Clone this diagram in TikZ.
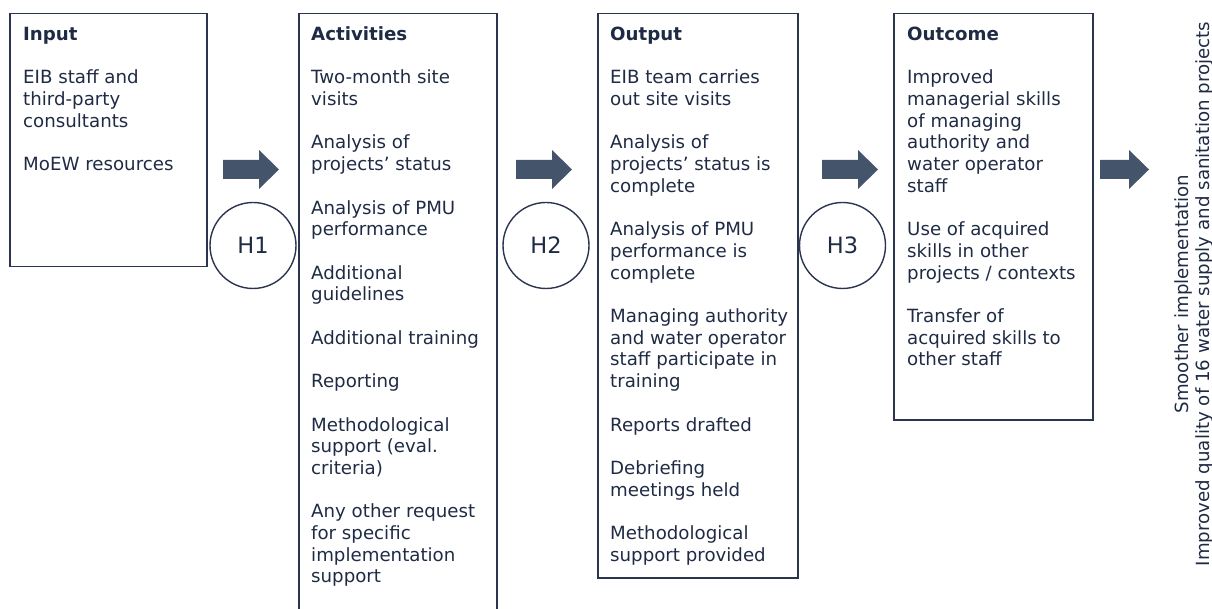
\documentclass[tikz,border=0pt]{standalone}
\usepackage{fontspec}
\setmainfont{DejaVu Sans}
\definecolor{ink}{HTML}{1F2B45}
\definecolor{frame}{HTML}{2B3550}
\definecolor{arrowfill}{HTML}{44546A}
\newcommand{\para}{\\[21.7pt]}
\newcommand{\txtfont}{\fontsize{18.2}{21.7}\selectfont}
\begin{document}
\begin{tikzpicture}[x=1pt,y=-1pt,
  stage/.style={draw=frame, line width=1.5pt, anchor=north west, inner sep=0},
  hyp/.style={circle, draw=frame, line width=1.4pt, minimum size=86pt, inner sep=0,
    text=ink, font=\fontsize{22.5}{26}\selectfont},
  body/.style={anchor=base west, inner sep=0, text=ink, font=\txtfont},
  blockarrow/.pic={\fill[arrowfill] (0,-9.5) -- (#1-20,-9.5) -- (#1-20,-19.5) -- (#1,0)
    -- (#1-20,19.5) -- (#1-20,9.5) -- (0,9.5) -- cycle;}
  ]
\useasboundingbox (0,0) rectangle (1212,609);

% stage frames
\node[stage, minimum width=197pt, minimum height=253pt] (input) at (9,13) {};
\node[stage, minimum width=198pt, minimum height=610pt] (activities) at (298,13) {};
\node[stage, minimum width=200pt, minimum height=564pt] (output) at (597,13) {};
\node[stage, minimum width=199pt, minimum height=406pt] (outcome) at (893,13) {};

% stage contents
\node[body] (inputtext) at (23,40.5) {\begin{tabular}[t]{@{}l@{}}
\textbf{Input}\para
EIB staff and\\third-party\\consultants\para
MoEW resources
\end{tabular}};

\node[body] (activitiestext) at (311,40.5) {\begin{tabular}[t]{@{}l@{}}
\textbf{Activities}\para
Two-month site\\visits\para
Analysis of\\projects’ status\para
Analysis of PMU\\performance\para
Additional\\guidelines\para
Additional training\para
Reporting\para
Methodological\\support (eval.\\criteria)\para
Any other request\\for specific\\implementation\\support
\end{tabular}};

\node[body] (outputtext) at (610,40.5) {\begin{tabular}[t]{@{}l@{}}
\textbf{Output}\para
EIB team carries\\out site visits\para
Analysis of\\projects’ status is\\complete\para
Analysis of PMU\\performance is\\complete\para
Managing authority\\and water operator\\staff participate in\\training\para
Reports drafted\para
Debriefing\\meetings held\para
Methodological\\support provided
\end{tabular}};

\node[body] (outcometext) at (907,40.5) {\begin{tabular}[t]{@{}l@{}}
\textbf{Outcome}\para
Improved\\managerial skills\\of managing\\authority and\\water operator\\staff\para
Use of acquired\\skills in other\\projects / contexts\para
Transfer of\\acquired skills to\\other staff
\end{tabular}};

% block arrows between stages
\pic at (223,169.5) {blockarrow=56};
\pic at (516,169.5) {blockarrow=56};
\pic at (822,169.5) {blockarrow=56};
\pic at (1100,169.5) {blockarrow=49};

% hypotheses
\node[hyp] (h1) at (253,245.5) {H1};
\node[hyp] (h2) at (546,245.5) {H2};
\node[hyp] (h3) at (842.5,245.5) {H3};

% impact
\node[rotate=90, align=center, inner sep=0, text=ink,
  font=\txtfont] (impact) at (1194,294)
  {Smoother implementation\\Improved quality of 16 water supply and sanitation projects};
\end{tikzpicture}
\end{document}
